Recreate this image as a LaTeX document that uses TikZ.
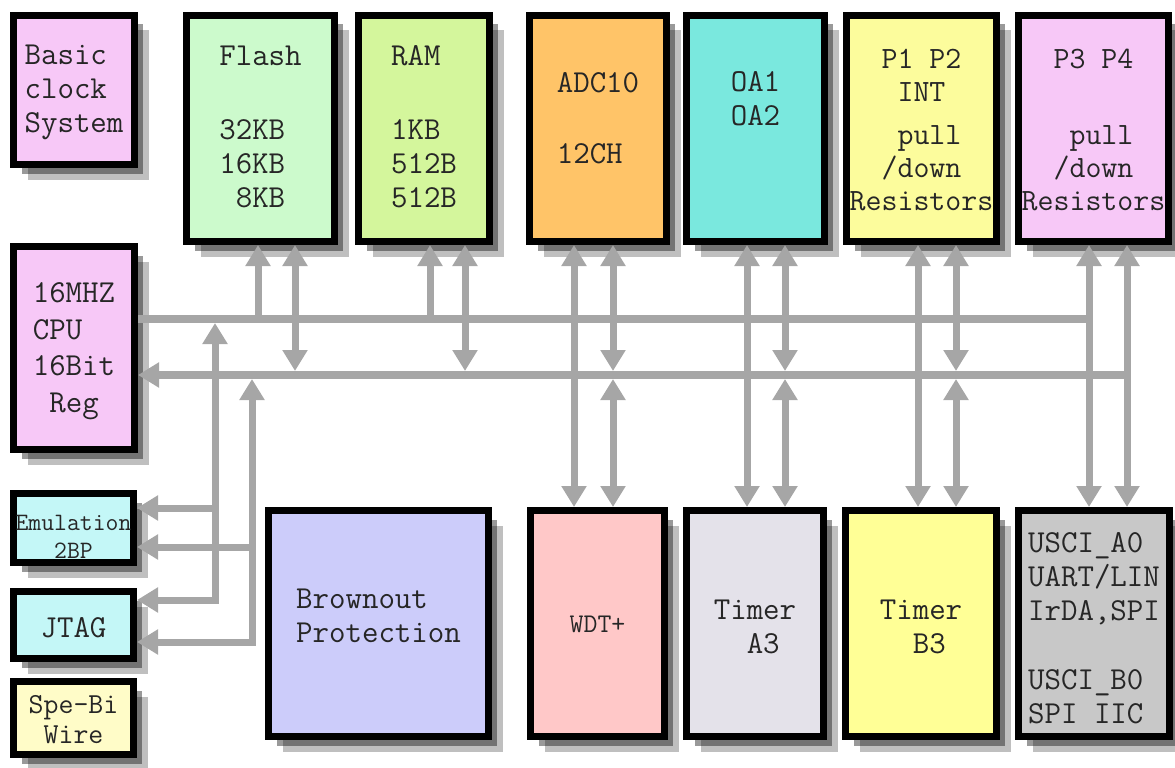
\documentclass[tikz,border=0pt]{standalone}
\usepackage{fontspec}
\usepackage{tikz}
\usetikzlibrary{arrows.meta,positioning,shadows}
\definecolor{clockpink}{RGB}{247,200,247}
\definecolor{flashgreen}{RGB}{204,250,204}
\definecolor{ramgreen}{RGB}{212,246,156}
\definecolor{adcorange}{RGB}{255,196,104}
\definecolor{oacyan}{RGB}{122,232,222}
\definecolor{p12yellow}{RGB}{252,252,156}
\definecolor{emucyan}{RGB}{196,247,247}
\definecolor{speyellow}{RGB}{255,252,200}
\definecolor{brownblue}{RGB}{204,204,250}
\definecolor{wdtpink}{RGB}{255,200,200}
\definecolor{tagray}{RGB}{228,226,234}
\definecolor{tbyellow}{RGB}{255,255,150}
\definecolor{uscigray}{RGB}{200,200,200}
\definecolor{busgray}{RGB}{166,166,166}

\begin{document}
\begin{tikzpicture}[x=1pt,y=-1pt,>={Triangle[width=24pt,length=21pt]},
  box/.style={draw=black,line width=7pt,rectangle,inner sep=0pt,align=left,
    text=black!85,minimum height=226pt,
    font=\ttfamily\fontsize{32}{34}\selectfont,
    drop shadow={shadow xshift=14pt,shadow yshift=-15pt,opacity=.25,fill=black},
    drop shadow={shadow xshift=8pt,shadow yshift=-9pt,opacity=.4,fill=black}},
  small/.style args={#1/#2}{font=\ttfamily\fontsize{#1}{#2}\selectfont},
  tpos/.style 2 args={text height=#1,text depth=#2},
  link/.style={draw=busgray,line width=7pt},
  bus/.style={draw=busgray,line width=8pt}]
  \useasboundingbox (0,0) rectangle (1175,768);

  \node [box,fill=clockpink,minimum width=121pt,minimum height=149pt,tpos={89pt}{5pt}] (clock) at (74,90) {Basic\\clock\\System};
  \node [box,fill=clockpink,minimum width=121pt,minimum height=203pt,tpos={133pt}{5pt},small=32/36.5] (cpu) at (74,348) {16MHZ\\CPU\\16Bit\\\hphantom{0}Reg};
  \node [box,fill=emucyan,minimum width=120pt,minimum height=69pt,tpos={62pt}{2pt},align=center,small=25/28] (emu) at (73.5,528) {Emulation\\2BP};
  \node [box,fill=emucyan,minimum width=120pt,minimum height=67pt,tpos={24pt}{0pt}] (jtag) at (73.5,625) {JTAG};
  \node [box,fill=speyellow,minimum width=120pt,minimum height=73pt,tpos={52pt}{2pt},align=center,small=29/30] (spe) at (73.5,718) {Spe-Bi\\Wire};

  \node [box,fill=flashgreen,minimum width=148pt,tpos={162pt}{5pt}] (flash) at (260.5,128.5) {Flash\\[40pt]32KB\\16KB\\\hphantom{0}8KB};
  \node [box,fill=ramgreen,minimum width=131pt,tpos={162pt}{5pt}] (ram) [right=17pt of flash] {RAM\\[40pt]1KB\\512B\\512B};
  \node [box,fill=adcorange,minimum width=137pt,tpos={74pt}{5pt}] (adc) [right=33pt of ram] {ADC10\\[37pt]12CH};
  \node [box,fill=oacyan,minimum width=138pt,tpos={24pt}{31pt}] (oa) [right=13pt of adc] {OA1\\OA2};
  \node [box,fill=p12yellow,minimum width=150pt,tpos={168pt}{5pt},align=center,small=31/33] (p12) [right=15pt of oa] {P1 P2\\INT\\[10pt]\hphantom{0}pull\\/down\\Resistors};
  \node [box,fill=clockpink,minimum width=150pt,tpos={168pt}{5pt},align=center,small=31/33] (p34) [right=15pt of p12] {P3 P4\\[43pt]\hphantom{0}pull\\/down\\Resistors};

  \node [box,fill=brownblue,minimum width=220pt,tpos={42pt}{5pt}] (brown) at (378.5,623.5) {Brownout\\Protection};
  \node [box,fill=wdtpink,minimum width=134pt,tpos={24pt}{7pt},small=27/30] (wdt) [right=35pt of brown] {WDT+};
  \node [box,fill=tagray,minimum width=137pt,tpos={64pt}{5pt}] (ta3) [right=15pt of wdt] {Timer\\\hphantom{00}A3};
  \node [box,fill=tbyellow,minimum width=151pt,tpos={64pt}{5pt}] (tb3) [right=15pt of ta3] {Timer\\\hphantom{00}B3};
  \node [box,fill=uscigray,minimum width=151pt,tpos={204pt}{5pt}] (usci) [right=15pt of tb3] {USCI\_A0\\UART/LIN\\IrDA,SPI\\[35pt]USCI\_B0\\SPI IIC};

  \coordinate (busup) at (0,319);
  \coordinate (buslo) at (0,375);
  \coordinate (upend) at (1089,319);
  \coordinate (loend) at (1127,375);

  \draw [bus] (cpu.east |- busup) -- (upend);
  \draw [bus,->] (loend) -- (cpu.east |- buslo);

  \foreach \x/\a in {258/flash,430/ram}
    \draw [link,->] (\x,319) -- (\x,0 |- \a.south);
  \foreach \x/\a in {295/flash,465/ram}
    \draw [link,<->] (\x,0 |- \a.south) -- (\x,371);
  \foreach \x/\a/\b in {574/adc/wdt,747/oa/ta3,918/p12/tb3,1089/p34/usci,1127/p34/usci}
    \draw [link,<->] (\x,0 |- \a.south) -- (\x,0 |- \b.north);
  \foreach \x/\a/\b in {613/adc/wdt,785/oa/ta3,956/p12/tb3} {
    \draw [link,<->] (\x,0 |- \a.south) -- (\x,371);
    \draw [link,<->] (\x,379) -- (\x,0 |- \b.north);
  }

  \draw [link,<->] (jtag.east |- 0,600) -| (215,323);
  \draw [link,->] (215,508) -- (emu.east |- 0,508);
  \draw [link,<->] (jtag.east |- 0,642) -| (252,379);
  \draw [link,->] (252,547) -- (emu.east |- 0,547);
\end{tikzpicture}
\end{document}
